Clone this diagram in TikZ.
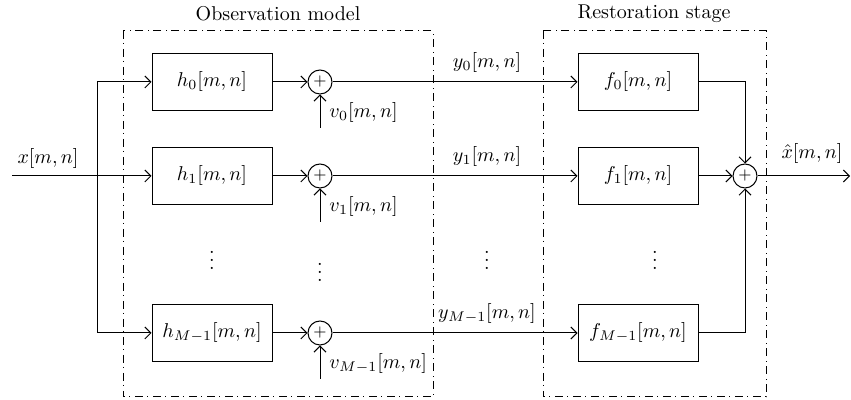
\documentclass[tikz,border=0pt]{standalone}
\usepackage{amsmath}
\usetikzlibrary{arrows.meta, positioning, calc}
\tikzset{
    filt/.style={
        draw,
        line width=0.5pt,
        minimum width=60pt,
        minimum height=28.5pt,
        inner sep=1pt
    },
    adder/.style={
        draw,
        circle,
        line width=0.5pt,
        minimum size=12pt,
        inner sep=0pt,
        font=\footnotesize
    },
    stagebox/.style={
        line width=0.5pt,
        dash pattern=on 4pt off 2pt on 0.6pt off 2.4pt
    },
    arr/.style={-{Straight Barb[length=3pt, width=6pt]}, line width=0.5pt},
    wire/.style={line width=0.5pt},
    sig/.style={inner sep=0.5pt}
}

\begin{document}
\begin{tikzpicture}[x=0.5pt, y=0.5pt]
\useasboundingbox (0,0) rectangle (851,400);

% stage frames
\draw[stagebox] (123,369) rectangle (433,3);
\draw[stagebox] (543,369) rectangle (766,3);
\node (obs)  at (278,386) {Observation model};
\node (rest) at (654,386) {Restoration stage};

% observation filters
\node[filt] (h0) at (212,318) {$h_0[m,n]$};
\node[filt] (h1) at (212,224) {$h_1[m,n]$};
\node[filt] (h2) at (212,67)  {$h_{M-1}[m,n]$};

% noise adders
\node[adder] (s0) at (320,318) {$+$};
\node[adder] (s1) at (320,224) {$+$};
\node[adder] (s2) at (320,67)  {$+$};

% restoration filters
\node[filt] (f0) at (638,318) {$f_0[m,n]$};
\node[filt] (f1) at (638,224) {$f_1[m,n]$};
\node[filt] (f2) at (638,67)  {$f_{M-1}[m,n]$};
\node[adder] (sout) at (745,224) {$+$};

% input and branching
\coordinate (in) at (12,224);
\coordinate (split) at (97,224);
\node[sig] (xlab) at (48,241) {$x[m,n]$};
\draw[wire] (in) -- (split);
\draw[wire] (split |- h0) -- (split |- h2);
\draw[arr] (split |- h0) -- (h0);
\draw[arr] (split) -- (h1);
\draw[arr] (split |- h2) -- (h2);

% filters to adders
\draw[arr] (h0) -- (s0);
\draw[arr] (h1) -- (s1);
\draw[arr] (h2) -- (s2);

% noise inputs
\coordinate (v0) at (320,272);
\coordinate (v1) at (320,178);
\coordinate (v2) at (320,21);
\draw[arr] (v0) -- (s0);
\draw[arr] (v1) -- (s1);
\draw[arr] (v2) -- (s2);
\node[sig, anchor=west] (v0lab) at (328,287) {$v_0[m,n]$};
\node[sig, anchor=west] (v1lab) at (328,193) {$v_1[m,n]$};
\node[sig, anchor=west] (v2lab) at (328,36)  {$v_{M-1}[m,n]$};

% observed signals
\draw[arr] (s0) -- (f0);
\draw[arr] (s1) -- (f1);
\draw[arr] (s2) -- (f2);
\node[sig] (y0lab) at (487,337) {$y_0[m,n]$};
\node[sig] (y1lab) at (487,243) {$y_1[m,n]$};
\node[sig] (y2lab) at (487,86)  {$y_{M-1}[m,n]$};

% combining
\draw[arr] (f0) -| (sout);
\draw[arr] (f1) -- (sout);
\draw[arr] (f2) -| (sout);
\coordinate (out) at (850,224);
\draw[arr] (sout) -- (out);
\node[sig] (xhat) at (812,246) {$\hat{x}[m,n]$};

% dots
\node (d1) at (212,146) {$\vdots$};
\node (d2) at (320,134) {$\vdots$};
\node (d3) at (487,146) {$\vdots$};
\node (d4) at (655,146) {$\vdots$};

\end{tikzpicture}
\end{document}
